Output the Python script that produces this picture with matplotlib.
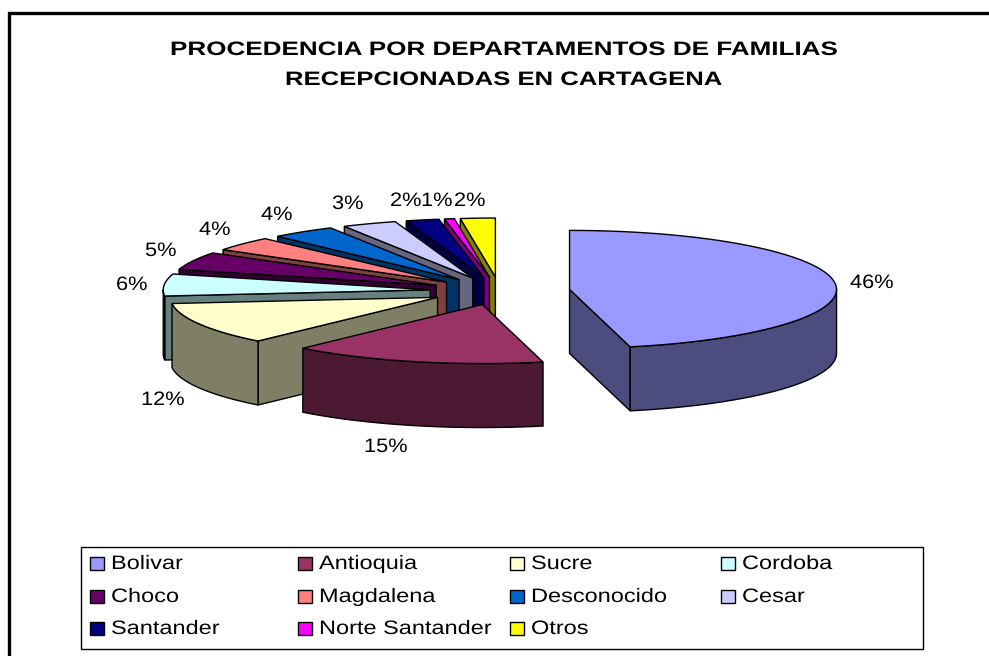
import numpy as np
import matplotlib
matplotlib.use("Agg")
import matplotlib.pyplot as plt
from matplotlib.patches import Polygon, Rectangle
from matplotlib.patheffects import AbstractPathEffect
from matplotlib.transforms import Affine2D

plt.rcParams['font.family'] = ['Liberation Sans', 'DejaVu Sans']

departamentos = ["Bolivar", "Antioquia", "Sucre", "Cordoba", "Choco", "Magdalena",
                 "Desconocido", "Cesar", "Santander", "Norte Santander", "Otros"]
valores = [46.4, 15.4, 11.6, 6, 4.9, 3.9, 3.9, 3.3, 2, 0.6, 2.1]
etiquetas = ["46%", "15%", "12%", "6%", "5%", "4%", "4%", "3%", "2%", "1%", "2%"]
colores = ["#9999FF", "#993366", "#FFFFCC", "#CCFFFF", "#660066", "#FF8080",
           "#0066CC", "#CCCCFF", "#000080", "#FF00FF", "#FFFF00"]
paredes = ["#4C4C7F", "#4C1933", "#7F7F66", "#667F7F", "#330033", "#7F4040",
           "#003366", "#66667F", "#000040", "#7F007F", "#7F7F00"]
titulo = ["PROCEDENCIA POR DEPARTAMENTOS DE FAMILIAS", "RECEPCIONADAS EN CARTAGENA"]

# pie geometry, pixels
cx, cy = 500, 291
rx, ry = 267, 59
alto = 64
explode_x, explode_y = 70, 14
# left edge / baseline of each percent label
pos_etiquetas = [(850, 288), (364, 452), (141, 405), (116, 290), (145, 256), (199, 235),
                 (261, 220), (332, 209), (390, 206), (421, 206), (454, 206)]


class StretchX(AbstractPathEffect):
    # matplotlib has no letter spacing, so widen the glyphs instead
    def __init__(self, sx):
        super().__init__()
        self.sx = sx

    def draw_path(self, renderer, gc, tpath, affine, rgbFace=None):
        renderer.draw_path(gc, tpath, Affine2D().scale(self.sx, 1) + affine, rgbFace)


def texto(x, y, s, size=14, sx=1.25, weight="normal"):
    ax.text(x, y, s, fontsize=size, fontweight=weight, color="black", ha="left", va="baseline",
            path_effects=[StretchX(sx)])


def punto(a, ox, oy, dz=0):
    return ox + rx*np.sin(a), oy - ry*np.cos(a) + dz


def rebanada(ox, oy, a0, a1, color, pared):
    # visible walls first, then the top
    if np.sin(a0) < 0:
        x, y = punto(a0, ox, oy)
        ax.add_patch(Polygon([(ox, oy), (x, y), (x, y+alto), (ox, oy+alto)], fc=pared, ec="black", lw=1))
    if np.sin(a1) > 0:
        x, y = punto(a1, ox, oy)
        ax.add_patch(Polygon([(ox, oy), (x, y), (x, y+alto), (ox, oy+alto)], fc=pared, ec="black", lw=1))
    w0, w1 = max(a0, np.pi/2), min(a1, 3*np.pi/2)
    if w1 > w0:
        t = np.linspace(w0, w1, 60)
        xs, ys = punto(t, ox, oy)
        arriba = list(zip(xs, ys))
        abajo = list(zip(xs, ys+alto))
        ax.add_patch(Polygon(arriba + abajo[::-1], fc=pared, ec="black", lw=1))
    t = np.linspace(a0, a1, 60)
    xs, ys = punto(t, ox, oy)
    ax.add_patch(Polygon([(ox, oy)] + list(zip(xs, ys)), fc=color, ec="black", lw=1))


fig = plt.figure(figsize=(9.89, 6.56), dpi=100)
ax = fig.add_axes([0, 0, 1, 1])
ax.set_xlim(0, 989)
ax.set_ylim(656, 0)
ax.axis("off")

# chart frame, runs off the right and bottom of the picture
ax.plot([9, 9, 989], [656, 13, 13], color="black", lw=2.4, solid_joinstyle="miter")

texto(170, 55, titulo[0], size=14, sx=1.34, weight="bold")
texto(285, 85, titulo[1], size=14, sx=1.32, weight="bold")

angulos = 2*np.pi*np.cumsum([0] + valores)/sum(valores)
for i in range(len(valores)-1, -1, -1):
    a0, a1 = angulos[i], angulos[i+1]
    med = (a0+a1)/2
    rebanada(cx + explode_x*np.sin(med), cy - explode_y*np.cos(med), a0, a1, colores[i], paredes[i])

for (x, y), e in zip(pos_etiquetas, etiquetas):
    texto(x, y, e, sx=1.12)

# legend
ax.add_patch(Rectangle((81, 547), 842, 102, fc="white", ec="black", lw=1))
col_x = [90, 298, 510, 721]
fila_y = [563, 596, 628]
for i, nombre in enumerate(departamentos):
    x, y = col_x[i % 4], fila_y[i//4]
    ax.add_patch(Rectangle((x, y-6), 14, 13, fc=colores[i], ec="black", lw=1))
    texto(x+21, y+6, nombre, sx=1.21)

plt.savefig("out.png", dpi=100)
